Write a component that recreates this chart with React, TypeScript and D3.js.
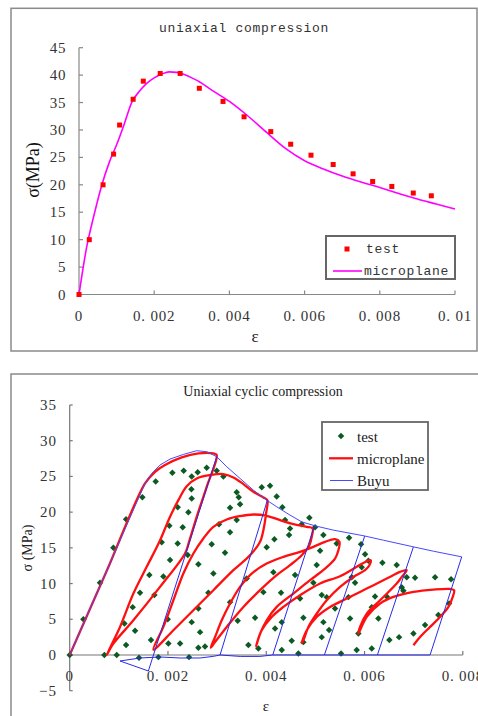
import * as d3 from 'd3';

const mono = '"Liberation Mono", "DejaVu Sans Mono", monospace';
const serif = '"Liberation Serif", "Times New Roman", serif';

// ---- uniaxial compression (top) ----
const monoTestStrain = [0, 0.000274, 0.00064, 0.00092, 0.00108, 0.00144, 0.00171, 0.00216, 0.00269, 0.0032, 0.00383, 0.00439, 0.0051, 0.00563, 0.00617, 0.00676, 0.00729, 0.00781, 0.00832, 0.00889, 0.00937];
const monoTestStress = [0, 10, 20, 25.6, 30.9, 35.6, 38.9, 40.3, 40.3, 37.6, 35.2, 32.4, 29.7, 27.4, 25.4, 23.7, 22.0, 20.6, 19.7, 18.5, 18.0];
const monoModelStrain = [0, 0.0002, 0.0004, 0.0006, 0.0008, 0.001, 0.0012, 0.0014, 0.0016, 0.0018, 0.002, 0.0022, 0.0024, 0.0026, 0.0028, 0.003, 0.0032, 0.0035, 0.004, 0.0045, 0.005, 0.0055, 0.006, 0.0065, 0.007, 0.0075, 0.008, 0.0085, 0.009, 0.0095, 0.01];
const monoModelStress = [0, 8.5, 14.5, 19.8, 24.0, 27.3, 31, 35, 37, 38.5, 39.5, 40.2, 40.6, 40.5, 40.1, 39.5, 38.8, 37.4, 35.2, 32.5, 29.5, 26.6, 24.4, 22.9, 21.6, 20.5, 19.5, 18.4, 17.4, 16.5, 15.6];
const monoXTicks = [0, 0.002, 0.004, 0.006, 0.008, 0.01];
const monoXLabels = ['0', '0. 002', '0. 004', '0. 006', '0. 008', '0. 01'];
const monoYTicks = [0, 5, 10, 15, 20, 25, 30, 35, 40, 45];

// ---- uniaxial cyclic compression (bottom), strain given in 1e-3 ----
const cycXTicks = [0, 0.002, 0.004, 0.006, 0.008];
const cycXLabels = ['0', '0. 002', '0. 004', '0. 006', '0. 008'];
const cycYTicks = [-5, 0, 5, 10, 15, 20, 25, 30, 35];
const cycYLabels = ['\u22125', '0', '5', '10', '15', '20', '25', '30', '35'];

const cycTest: [number, number][] = [
  [0, 0], [0.278, 5.0], [0.617, 10.1], [0.889, 15.0], [1.147, 19.0], [1.479, 22.1], [1.75, 24.3], [2.09, 25.5],
  [2.32, 25.8], [2.483, 25.0], [2.605, 25.6], [2.788, 26.2], [2.992, 25.8], [3.128, 25.0], [2.476, 23.2], [2.483, 21.9],
  [2.198, 20.7], [2.415, 20.0], [2.028, 18.1], [2.3, 17.9], [1.872, 15.8], [2.198, 15.6], [3.399, 22.8], [3.44, 22.1],
  [3.263, 20.6], [3.467, 21.1], [3.908, 23.5], [4.077, 23.7], [4.213, 22.2], [4.328, 20.7], [4.383, 18.9], [4.484, 17.7],
  [4.464, 16.8], [4.722, 18.3], [4.878, 19.2], [4.993, 17.9], [5.163, 16.8], [4.166, 16.2], [3.399, 18.9], [3.039, 18.3],
  [3.263, 17.2], [2.89, 15.5], [5.685, 16.4], [5.929, 15.5], [0.706, 0], [0.957, 0], [2.042, 13.3], [2.402, 14.0],
  [2.619, 12.7], [1.621, 11.2], [1.906, 11.0], [1.431, 8.7], [1.723, 8.4], [1.282, 6.7], [1.113, 4.4], [1.33, 3.4],
  [1.655, 2.1], [1.995, 5.0], [2.483, 4.6], [1.147, 1.4], [2.008, 1.6], [2.246, 1.6], [1.411, -0.4], [1.805, -0.3],
  [2.429, -0.3], [2.619, 1.0], [3.161, 14.3], [2.924, 11.4], [2.822, 8.7], [2.619, 6.5], [2.653, 3.2], [2.754, 1.2],
  [4.009, 15.1], [5.095, 14.6], [4.145, 11.6], [3.602, 10.7], [3.942, 8.8], [4.301, 8.7], [3.772, 5.2], [3.419, 4.8],
  [3.263, 7.4], [5.027, 12.6], [4.586, 11.2], [4.959, 10.1], [4.688, 7.9], [5.129, 8.4], [4.756, 5.2], [5.163, 4.6],
  [4.315, 4.6], [4.179, 3.7], [3.636, 1.4], [3.84, 0.9], [4.315, 0.7], [4.518, 2.0], [4.756, 1.8], [4.654, 0.2],
  [5.129, 2.5], [5.434, 15.6], [6.011, 14.1], [6.079, 13.2], [5.943, 12.3], [6.364, 12.9], [6.655, 12.6], [5.739, 10.9],
  [5.807, 10.1], [5.672, 8.1], [5.4, 6.5], [6.214, 8.2], [6.452, 8.2], [6.859, 10.9], [7.028, 10.8], [6.757, 9.5],
  [6.791, 9.0], [7.436, 10.9], [7.761, 10.6], [7.72, 7.2], [7.503, 5.6], [7.232, 4.2], [6.995, 3.0], [6.703, 2.5],
  [6.506, 2.1], [6.282, 5.1], [6.147, 6.7], [5.875, 3.0], [5.706, 5.1], [5.278, 3.5], [5.841, 0.7], [6.147, 0.9],
  [5.522, 0.2], [5.231, 8.1],
];

// microplane: one continuous load / unload / reload path
const cycModel: [number, number][] = [
  [0, 0], [0.75, 11.72], [1.533, 24.02], [1.737, 25.65], [1.94, 26.59], [2.28, 27.66], [2.619, 28.22], [2.924, 28.22], [2.992, 27.99],
  [2.788, 23.55], [2.585, 19.35], [2.429, 15.84], [2.347, 14.21], [1.838, 9.53], [1.296, 4.86], [0.889, 1.59], [0.753, 0],
  [1.024, 3.93], [1.296, 8.6], [1.567, 12.34], [1.825, 15.84], [2.042, 19.35], [2.212, 21.68], [2.381, 23.64], [2.585, 24.72],
  [2.856, 25.19], [3.128, 25.33], [3.331, 24.86], [3.535, 23.93], [3.738, 22.85], [3.942, 22.06], [4.023, 21.68],
  [3.996, 19.81], [3.955, 17.94], [3.874, 15.84], [3.67, 13.97], [3.331, 11.87], [2.924, 9.07], [2.517, 6.26], [2.11, 3.46], [1.703, 0.75],
  [1.906, 3.93], [2.11, 7.66], [2.313, 11.4], [2.517, 14.21], [2.72, 16.31], [2.924, 17.94], [3.195, 18.97], [3.467, 19.44],
  [3.738, 19.67], [4.009, 19.49], [4.281, 18.88], [4.552, 18.32], [4.824, 17.94], [4.946, 17.71],
  [4.932, 16.78], [4.878, 15.37], [4.722, 13.97], [4.484, 12.57], [4.213, 11.17], [3.874, 9.07], [3.535, 6.73], [3.195, 3.93], [2.958, 1.82], [2.87, 1.03],
  [2.958, 2.52], [3.094, 4.86], [3.263, 7.2], [3.467, 9.53], [3.704, 11.4], [4.009, 12.8], [4.349, 13.74], [4.688, 14.44],
  [4.959, 15.14], [5.197, 15.84], [5.4, 16.21], [5.489, 15.84],
  [5.468, 14.67], [5.4, 13.5], [5.197, 12.1], [4.891, 10.47], [4.552, 8.6], [4.213, 6.73], [4.009, 4.86], [3.874, 2.99], [3.792, 1.21],
  [3.908, 3.46], [4.111, 5.33], [4.349, 6.73], [4.688, 8.36], [5.095, 10.0], [5.502, 11.03], [5.841, 12.34], [6.045, 13.13], [6.126, 13.27],
  [6.099, 12.57], [6.011, 11.87], [5.773, 10.93], [5.502, 9.53], [5.231, 7.66], [5.027, 5.79], [4.858, 3.93], [4.756, 2.06], [4.722, 1.68],
  [4.824, 3.46], [5.027, 5.33], [5.299, 6.73], [5.638, 7.9], [6.045, 9.3], [6.452, 10.7], [6.723, 11.64], [6.859, 11.87],
  [6.757, 10.93], [6.655, 10.0], [6.316, 7.66], [6.045, 5.79], [5.909, 3.93], [5.875, 2.99],
  [6.045, 5.33], [6.316, 7.2], [6.588, 8.13], [6.995, 8.83], [7.402, 9.16], [7.741, 9.25], [7.822, 9.07],
  [7.795, 8.13], [7.707, 6.73], [7.537, 5.33], [7.334, 3.93], [7.13, 2.52], [6.995, 1.36],
];

// Buyu: envelope plus straight unload/reload branches
const buyuEnvelope: [number, number][] = [
  [0, 0], [1.533, 24.02], [1.669, 25.42], [1.838, 26.59], [2.042, 27.43], [2.313, 28.08], [2.585, 28.6], [2.788, 28.46],
  [2.992, 27.76], [3.195, 26.36], [3.467, 24.72], [3.738, 23.08], [4.009, 21.68], [4.213, 20.75], [4.484, 19.58],
  [4.722, 18.64], [4.993, 18.08], [5.366, 17.48], [5.99, 16.68], [6.384, 16.07], [6.995, 15.14], [7.402, 14.53], [7.978, 13.74],
];
const buyuBranches: [number, number][][] = [
  [[2.992, 27.76], [1.601, -2.24], [1.024, -0.84], [1.431, -0.42], [1.838, -0.28], [2.246, -0.42], [2.653, -0.42], [2.924, -0.19], [3.06, 0], [4.023, 21.68]],
  [[3.06, 0], [3.47, -0.2], [3.87, -0.2], [4.132, 0], [4.973, 17.94]],
  [[4.132, 0], [5.183, 0], [6.004, 16.64]],
  [[5.183, 0], [6.262, 0], [6.995, 15.14]],
  [[6.262, 0], [7.334, 0], [7.978, 13.74]],
];

export default function App() {
  // top chart scales
  const x1 = d3.scaleLinear().domain([0, 0.01]).range([79, 455]);
  const y1 = d3.scaleLinear().domain([0, 45]).range([294.5, 47.7]);
  const monoLine = d3.line<number>()
    .x((d) => x1(d))
    .y((_, i) => y1(monoModelStress[i]))
    .curve(d3.curveMonotoneX);

  // bottom chart scales
  const x2 = d3.scaleLinear().domain([0, 0.008]).range([69.7, 462.8]);
  const y2 = d3.scaleLinear().domain([-5, 35]).range([690.7, 405]);
  const modelLine = d3.line<[number, number]>()
    .x((d) => x2(d[0] / 1000))
    .y((d) => y2(d[1]))
    .curve(d3.curveCatmullRom.alpha(0.5));
  const straight = d3.line<[number, number]>()
    .x((d) => x2(d[0] / 1000))
    .y((d) => y2(d[1]));
  const diamond = d3.symbol(d3.symbolSquare, 21)();

  return (
    <svg width={478} height={716} style={{ position: 'absolute', left: 0, top: 0, display: 'block', background: '#fff' }}>
      <rect x={0} y={0} width={478} height={716} fill="#fff" />

      {/* ===== top chart ===== */}
      <rect x={11} y={8.3} width={466} height={342.7} fill="#fff" stroke="#8a8a8a" strokeWidth={1.5} />
      <text x={244} y={28} textAnchor="middle" dominantBaseline="central" fontFamily={mono} fontSize={13} letterSpacing={0.7} fill="#333">uniaxial compression</text>

      <line x1={79} x2={79} y1={y1(45)} y2={y1(0)} stroke="#888" strokeWidth={1.2} />
      <line x1={79} x2={455} y1={y1(0)} y2={y1(0)} stroke="#888" strokeWidth={1.2} />
      {monoYTicks.map((t) => (
        <g key={'ty' + t}>
          <line x1={79} x2={83} y1={y1(t)} y2={y1(t)} stroke="#888" strokeWidth={1.2} />
          <text x={66} y={y1(t)} textAnchor="end" dominantBaseline="central" fontFamily={serif} fontSize={15} letterSpacing={0.6} fill="#333">{t}</text>
        </g>
      ))}
      {monoXTicks.map((t, i) => (
        <g key={'tx' + t}>
          <line x1={x1(t)} x2={x1(t)} y1={y1(0)} y2={y1(0) - 4} stroke="#888" strokeWidth={1.2} />
          <text x={x1(t)} y={316} textAnchor="middle" dominantBaseline="central" fontFamily={serif} fontSize={15} letterSpacing={0.8} fill="#333">{monoXLabels[i]}</text>
        </g>
      ))}
      <text x={255} y={336} textAnchor="middle" dominantBaseline="central" fontFamily={serif} fontSize={17} fill="#222">ε</text>
      <text transform="translate(33,170) rotate(-90)" textAnchor="middle" dominantBaseline="central" fontFamily={serif} fontSize={18} fill="#111">σ(MPa)</text>

      <path d={monoLine(monoModelStrain) || ''} fill="none" stroke="#ff00ff" strokeWidth={1.6} />
      {monoTestStrain.map((s, i) => (
        <rect key={'mt' + i} x={x1(s) - 2.5} y={y1(monoTestStress[i]) - 2.5} width={5} height={5} fill="#ff0000" />
      ))}

      <rect x={326} y={236} width={129} height={43} fill="#fff" stroke="#666" strokeWidth={2} />
      <rect x={344.5} y={246.5} width={5} height={5} fill="#ff0000" />
      <text x={366} y={249} dominantBaseline="central" fontFamily={mono} fontSize={13} letterSpacing={0.7} fill="#333">test</text>
      <line x1={333} x2={362} y1={271} y2={271} stroke="#ff00ff" strokeWidth={1.6} />
      <text x={364} y={271} dominantBaseline="central" fontFamily={mono} fontSize={13} letterSpacing={0.7} fill="#333">microplane</text>

      {/* ===== bottom chart ===== */}
      <rect x={11} y={374} width={480} height={360} fill="#fff" stroke="#8a8a8a" strokeWidth={1.5} />
      <text x={263} y={391} textAnchor="middle" dominantBaseline="central" fontFamily={serif} fontSize={14} fill="#222">Uniaxial cyclic compression</text>

      <line x1={x2(0)} x2={x2(0)} y1={y2(35)} y2={y2(-5)} stroke="#777" strokeWidth={1.2} />
      <line x1={x2(0)} x2={x2(0.008)} y1={y2(0)} y2={y2(0)} stroke="#777" strokeWidth={1.2} />
      {cycYTicks.map((t, i) => (
        <g key={'cy' + t}>
          <line x1={x2(0)} x2={x2(0) + 3} y1={y2(t)} y2={y2(t)} stroke="#777" strokeWidth={1.2} />
          <text x={57} y={y2(t)} textAnchor="end" dominantBaseline="central" fontFamily={serif} fontSize={15} letterSpacing={1} fill="#333">{cycYLabels[i]}</text>
        </g>
      ))}
      {cycXTicks.map((t, i) => (
        <g key={'cx' + t}>
          <line x1={x2(t)} x2={x2(t)} y1={y2(0)} y2={y2(0) - 4} stroke="#777" strokeWidth={1.2} />
          <text x={x2(t)} y={676} textAnchor="middle" dominantBaseline="central" fontFamily={serif} fontSize={15} letterSpacing={0.8} fill="#333">{cycXLabels[i]}</text>
        </g>
      ))}
      <text x={266} y={706} textAnchor="middle" dominantBaseline="central" fontFamily={serif} fontSize={15} fill="#222">ε</text>
      <text transform="translate(27,548) rotate(-90)" textAnchor="middle" dominantBaseline="central" fontFamily={serif} fontSize={14} fill="#222">σ (MPa)</text>

      {cycTest.map((d, i) => (
        <path key={'ct' + i} d={diamond || ''} transform={`translate(${x2(d[0] / 1000)},${y2(d[1])}) rotate(45)`} fill="#0b5a22" />
      ))}
      <path d={modelLine(cycModel) || ''} fill="none" stroke="#ff1010" strokeWidth={2.3} strokeLinejoin="round" />
      <path d={straight(buyuEnvelope) || ''} fill="none" stroke="#4848ff" strokeWidth={1} />
      {buyuBranches.map((b, i) => (
        <path key={'bb' + i} d={straight(b) || ''} fill="none" stroke="#2a2ae8" strokeWidth={1} />
      ))}

      <rect x={322} y={422} width={106} height={68} fill="#fff" stroke="#666" strokeWidth={1.8} />
      <path d={diamond || ''} transform="translate(341,436) rotate(45)" fill="#0b5a22" />
      <text x={357} y={437} dominantBaseline="central" fontFamily={serif} fontSize={15} fill="#222">test</text>
      <line x1={329} x2={353} y1={458.3} y2={458.3} stroke="#ff1010" strokeWidth={2.3} />
      <text x={357} y={459} dominantBaseline="central" fontFamily={serif} fontSize={15} fill="#222">microplane</text>
      <line x1={330} x2={353} y1={480.5} y2={480.5} stroke="#4848ff" strokeWidth={1} />
      <text x={357} y={481} dominantBaseline="central" fontFamily={serif} fontSize={15} fill="#222">Buyu</text>
    </svg>
  );
}
